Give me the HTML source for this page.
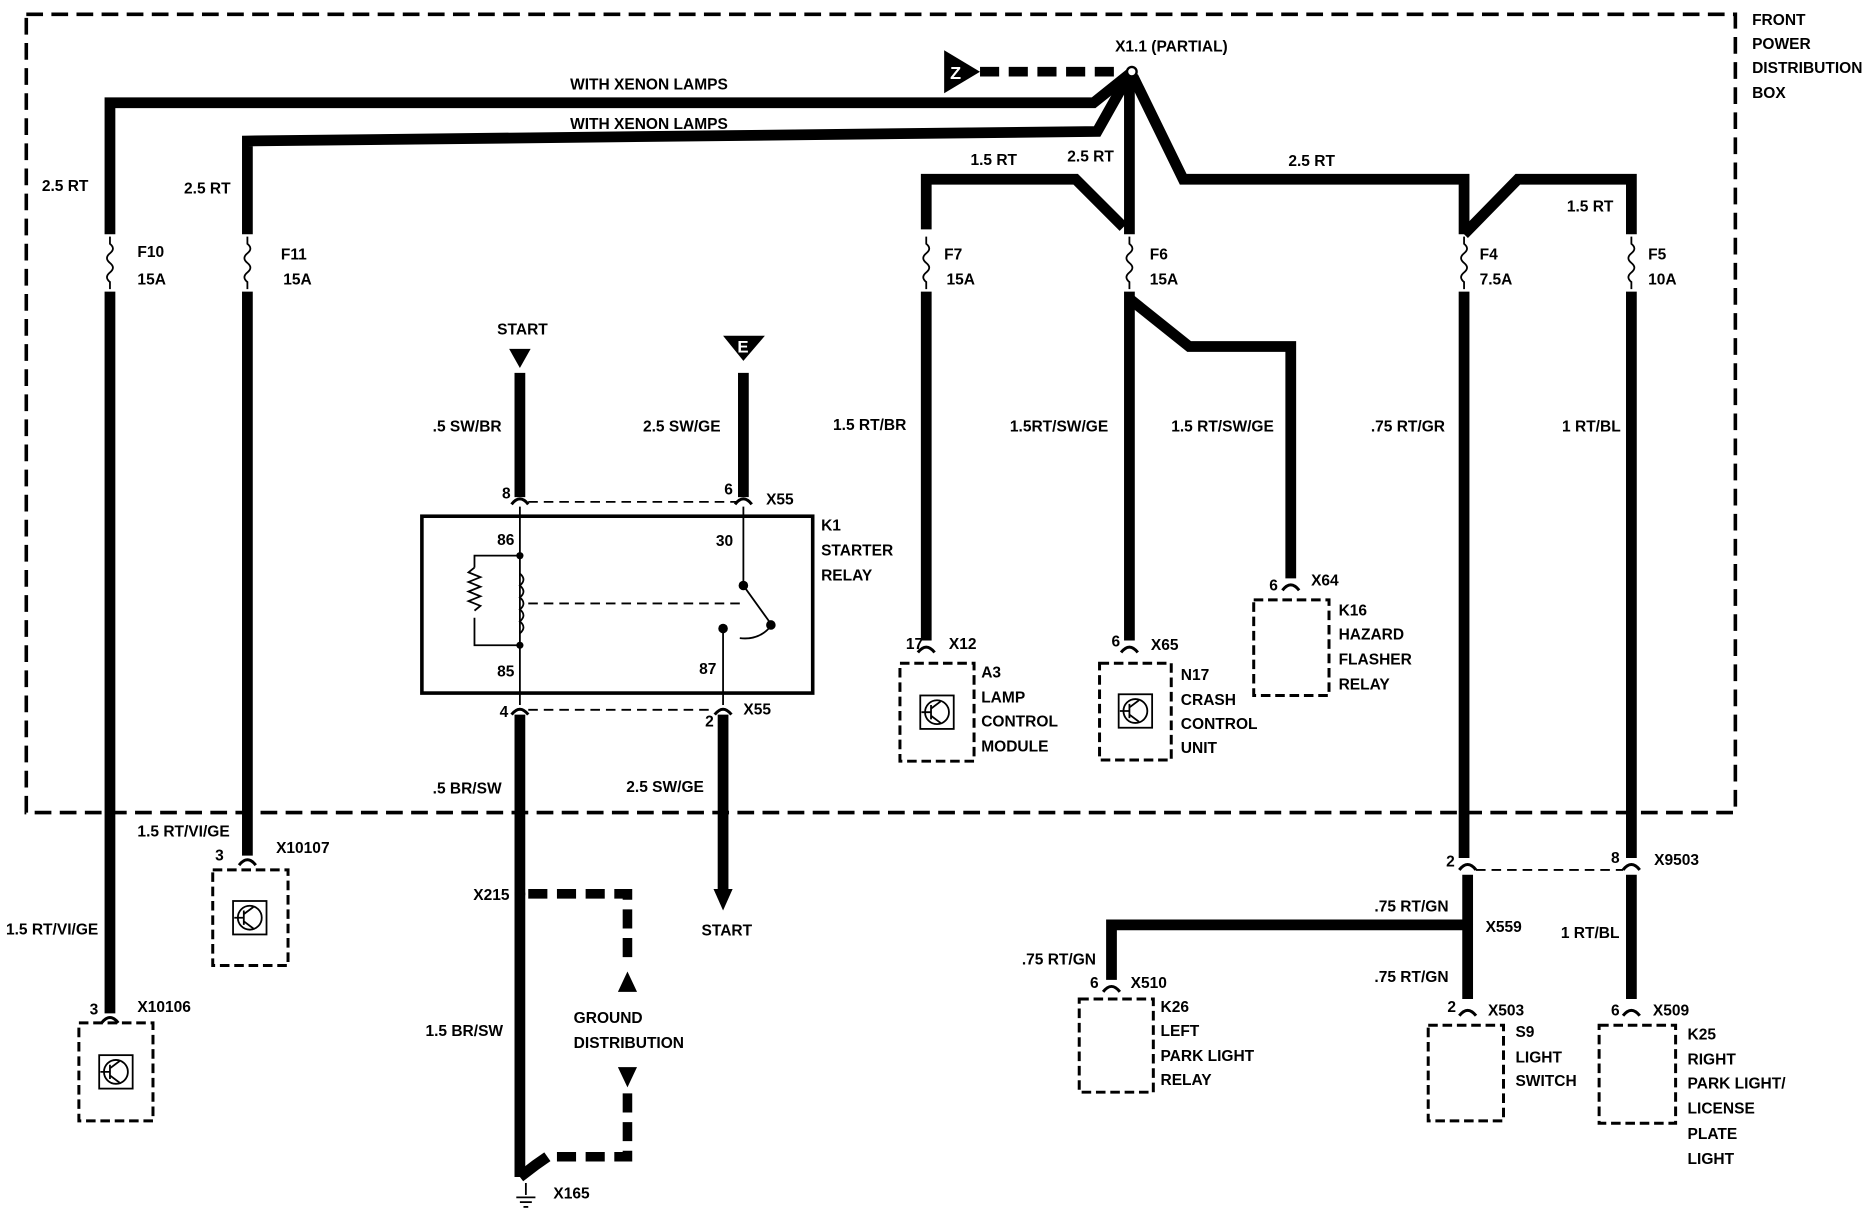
<!DOCTYPE html>
<html><head><meta charset="utf-8"><style>
html,body{margin:0;padding:0;background:#fff}
svg{display:block}
text{font-family:"Liberation Sans",sans-serif;font-size:13px;font-weight:bold;fill:#000}
</style></head><body>
<svg width="1874" height="1232" viewBox="0 0 1568 1031" preserveAspectRatio="none" xmlns="http://www.w3.org/2000/svg">
<g fill="none" stroke="#000">
<!-- outer dashed box -->
<rect x="22" y="12" width="1430" height="668" stroke-width="3" stroke-dasharray="14,7"/>
<!-- thick wires -->
<g stroke-width="9" stroke-linejoin="miter">
<polyline points="945,62 915,86 92,86 92,196"/>
<polyline points="945,62 918,110 207,118 207,196"/>
<polyline points="945,64 945,196"/>
<polyline points="775,192 775,150 900,150 940,190"/>
<polyline points="948,64 990,150 1225,150 1225,196"/>
<polyline points="1225,196 1270,150 1365,150 1365,196"/>
<line x1="92" y1="244" x2="92" y2="848"/>
<line x1="207" y1="244" x2="207" y2="716"/>
<line x1="775" y1="244" x2="775" y2="536"/>
<line x1="945" y1="244" x2="945" y2="536"/>
<polyline points="945,250 995,290 1080,290 1080,484"/>
<line x1="1225" y1="244" x2="1225" y2="718"/>
<line x1="1365" y1="244" x2="1365" y2="718"/>
<line x1="1228" y1="732" x2="1228" y2="836"/>
<polyline points="1228,774 930,774 930,820"/>
<line x1="1365" y1="732" x2="1365" y2="836"/>
<line x1="435" y1="312" x2="435" y2="416"/>
<line x1="622" y1="312" x2="622" y2="416"/>
<line x1="435" y1="598" x2="435" y2="985"/>
<polyline points="435,985 448,975 458,968"/>
<line x1="605" y1="598" x2="605" y2="745"/>
</g>
<!-- thick dashed -->
<g stroke-width="8" stroke-dasharray="16,8">
<line x1="820" y1="60" x2="940" y2="60"/>
<polyline points="442,748 525,748 525,805"/>
<polyline points="525,915 525,968 462,968"/>
</g>
<!-- fuses -->
<g stroke-width="1.5">
<path d="M92,198 v6 q5,4 0,8 q-5,4 0,8 q5,4 0,8 q-5,4 0,8 v6"/>
<path d="M207,198 v6 q5,4 0,8 q-5,4 0,8 q5,4 0,8 q-5,4 0,8 v6"/>
<path d="M775,198 v6 q5,4 0,8 q-5,4 0,8 q5,4 0,8 q-5,4 0,8 v6"/>
<path d="M945,198 v6 q5,4 0,8 q-5,4 0,8 q5,4 0,8 q-5,4 0,8 v6"/>
<path d="M1225,198 v6 q5,4 0,8 q-5,4 0,8 q5,4 0,8 q-5,4 0,8 v6"/>
<path d="M1365,198 v6 q5,4 0,8 q-5,4 0,8 q5,4 0,8 q-5,4 0,8 v6"/>
</g>
<!-- connector arcs -->
<g stroke-width="2.5">
<path d="M85,856 q7,-9 14,0"/><path d="M200,724 q7,-9 14,0"/>
<path d="M768,546 q7,-9 14,0"/><path d="M938,546 q7,-9 14,0"/>
<path d="M1073,494 q7,-9 14,0"/><path d="M923,830 q7,-9 14,0"/>
<path d="M1221,728 q7,-9 14,0"/><path d="M1358,728 q7,-9 14,0"/>
<path d="M1221,850 q7,-9 14,0"/><path d="M1358,850 q7,-9 14,0"/>
<path d="M428,422 q7,-9 14,0"/><path d="M615,422 q7,-9 14,0"/>
<path d="M428,598 q7,-9 14,0"/><path d="M598,598 q7,-9 14,0"/>
</g>
<!-- thin dashed connector lines -->
<g stroke-width="1.5" stroke-dasharray="8,5">
<line x1="442" y1="420" x2="616" y2="420"/>
<line x1="442" y1="594" x2="598" y2="594"/>
<line x1="1235" y1="728" x2="1358" y2="728"/>
<line x1="442" y1="505" x2="620" y2="505"/>
</g>
<!-- dashed component boxes -->
<g stroke-width="2.5" stroke-dasharray="8,4">
<rect x="66" y="856" width="62" height="82"/>
<rect x="178" y="728" width="63" height="80"/>
<rect x="753" y="555" width="62" height="82"/>
<rect x="920" y="555" width="60" height="81"/>
<rect x="1049" y="502" width="63" height="80"/>
<rect x="903" y="836" width="62" height="78"/>
<rect x="1195" y="858" width="63" height="80"/>
<rect x="1338" y="858" width="64" height="82"/>
</g>
<!-- module symbols -->
<g stroke-width="1.5">
<g transform="translate(97,897)"><rect x="-14" y="-14" width="28" height="28"/><circle r="10"/><path d="M-5,-6 v12 M-5,0 h-8 M-5,-3 l8,-6 M-5,3 l8,6"/></g>
<g transform="translate(209,768)"><rect x="-14" y="-14" width="28" height="28"/><circle r="10"/><path d="M-5,-6 v12 M-5,0 h-8 M-5,-3 l8,-6 M-5,3 l8,6"/></g>
<g transform="translate(784,596)"><rect x="-14" y="-14" width="28" height="28"/><circle r="10"/><path d="M-5,-6 v12 M-5,0 h-8 M-5,-3 l8,-6 M-5,3 l8,6"/></g>
<g transform="translate(950,595)"><rect x="-14" y="-14" width="28" height="28"/><circle r="10"/><path d="M-5,-6 v12 M-5,0 h-8 M-5,-3 l8,-6 M-5,3 l8,6"/></g>
</g>
<!-- K1 relay -->
<rect x="353" y="432" width="327" height="148" stroke-width="3"/>
<g stroke-width="1.5">
<line x1="435" y1="424" x2="435" y2="590"/>
<polyline points="435,465 397,465 397,475"/>
<path d="M397,475 l-5,4 l10,4 l-10,4 l10,4 l-10,4 l10,4 l-10,4 l10,4 l-5,4"/>
<polyline points="397,517 397,540 435,540"/>
<path d="M435,480 q6,5 0,10 q6,5 0,10 q6,5 0,10 q6,5 0,10 q6,5 0,10"/>
<polyline points="622,424 622,490 645,522"/>
<polyline points="605,528 605,590"/>
<path d="M645,524 q-10,12 -26,10"/>
</g>
<g fill="#000" stroke="none">
<circle cx="435" cy="465" r="3"/><circle cx="435" cy="540" r="3"/>
<circle cx="622" cy="490" r="4"/><circle cx="605" cy="526" r="4"/><circle cx="645" cy="523" r="4"/>
<circle cx="435" cy="748" r="4.5"/><circle cx="1228" cy="774" r="4.5"/>
<!-- triangles -->
<polygon points="790,42 790,78 820,60"/>
<polygon points="426,292 444,292 435,308"/>
<polygon points="605,281 640,281 622,302"/>
<polygon points="597,744 613,744 605,762"/>
<polygon points="517,830 533,830 525,813"/>
<polygon points="517,893 533,893 525,910"/>
</g>
<circle cx="947" cy="60" r="4" fill="#fff" stroke-width="2"/>
<!-- ground -->
<g stroke-width="1.5"><line x1="440" y1="990" x2="440" y2="1000"/><line x1="432" y1="1002" x2="448" y2="1002"/><line x1="435" y1="1006" x2="445" y2="1006"/><line x1="438" y1="1010" x2="442" y2="1010"/></g>
</g>
<text x="795" y="66" style="fill:#fff;font-size:15px">Z</text>
<text x="617" y="295" style="fill:#fff;font-size:14px">E</text>
<g>
<text x="933" y="43">X1.1 (PARTIAL)</text>
<text x="1466" y="21">FRONT</text><text x="1466" y="41">POWER</text><text x="1466" y="61">DISTRIBUTION</text><text x="1466" y="82">BOX</text>
<text x="477" y="75">WITH XENON LAMPS</text>
<text x="477" y="108">WITH XENON LAMPS</text>
<text x="35" y="160">2.5 RT</text><text x="154" y="162">2.5 RT</text>
<text x="812" y="138">1.5 RT</text><text x="893" y="135">2.5 RT</text>
<text x="1078" y="139">2.5 RT</text><text x="1311" y="177">1.5 RT</text>
<text x="115" y="215">F10</text><text x="115" y="238">15A</text>
<text x="235" y="217">F11</text><text x="237" y="238">15A</text>
<text x="790" y="217">F7</text><text x="792" y="238">15A</text>
<text x="962" y="217">F6</text><text x="962" y="238">15A</text>
<text x="1238" y="217">F4</text><text x="1238" y="238">7.5A</text>
<text x="1379" y="217">F5</text><text x="1379" y="238">10A</text>
<text x="416" y="280">START</text>
<text x="362" y="361">.5 SW/BR</text><text x="538" y="361">2.5 SW/GE</text>
<text x="697" y="360">1.5 RT/BR</text><text x="845" y="361">1.5RT/SW/GE</text><text x="980" y="361">1.5 RT/SW/GE</text>
<text x="1147" y="361">.75 RT/GR</text><text x="1307" y="361">1 RT/BL</text>
<text x="420" y="417">8</text><text x="606" y="414">6</text><text x="641" y="422">X55</text>
<text x="687" y="444">K1</text><text x="687" y="465">STARTER</text><text x="687" y="486">RELAY</text>
<text x="416" y="456">86</text><text x="599" y="457">30</text><text x="416" y="566">85</text><text x="585" y="564">87</text>
<text x="418" y="600">4</text><text x="590" y="608">2</text><text x="622" y="598">X55</text>
<text x="362" y="664">.5 BR/SW</text><text x="524" y="663">2.5 SW/GE</text>
<text x="587" y="783">START</text>
<text x="396" y="753">X215</text>
<text x="480" y="856">GROUND</text><text x="480" y="877">DISTRIBUTION</text>
<text x="356" y="867">1.5 BR/SW</text>
<text x="463" y="1003">X165</text>
<text x="115" y="700">1.5 RT/VI/GE</text>
<text x="180" y="720">3</text><text x="231" y="714">X10107</text>
<text x="5" y="782">1.5 RT/VI/GE</text>
<text x="75" y="849">3</text><text x="115" y="847">X10106</text>
<text x="758" y="543">17</text><text x="794" y="543">X12</text>
<text x="821" y="567">A3</text><text x="821" y="588">LAMP</text><text x="821" y="608">CONTROL</text><text x="821" y="629">MODULE</text>
<text x="930" y="541">6</text><text x="963" y="544">X65</text>
<text x="988" y="569">N17</text><text x="988" y="590">CRASH</text><text x="988" y="610">CONTROL</text><text x="988" y="630">UNIT</text>
<text x="1062" y="494">6</text><text x="1097" y="490">X64</text>
<text x="1120" y="515">K16</text><text x="1120" y="535">HAZARD</text><text x="1120" y="556">FLASHER</text><text x="1120" y="577">RELAY</text>
<text x="1210" y="725">2</text><text x="1348" y="722">8</text><text x="1384" y="724">X9503</text>
<text x="1150" y="763">.75 RT/GN</text><text x="1243" y="780">X559</text>
<text x="855" y="807">.75 RT/GN</text>
<text x="912" y="827">6</text><text x="946" y="827">X510</text>
<text x="971" y="847">K26</text><text x="971" y="867">LEFT</text><text x="971" y="888">PARK LIGHT</text><text x="971" y="908">RELAY</text>
<text x="1150" y="822">.75 RT/GN</text>
<text x="1211" y="847">2</text><text x="1245" y="850">X503</text>
<text x="1268" y="868">S9</text><text x="1268" y="889">LIGHT</text><text x="1268" y="909">SWITCH</text>
<text x="1306" y="785">1 RT/BL</text>
<text x="1348" y="850">6</text><text x="1383" y="850">X509</text>
<text x="1412" y="870">K25</text><text x="1412" y="891">RIGHT</text><text x="1412" y="911">PARK LIGHT/</text><text x="1412" y="932">LICENSE</text><text x="1412" y="953">PLATE</text><text x="1412" y="974">LIGHT</text>
</g>
</svg>
</body></html>
